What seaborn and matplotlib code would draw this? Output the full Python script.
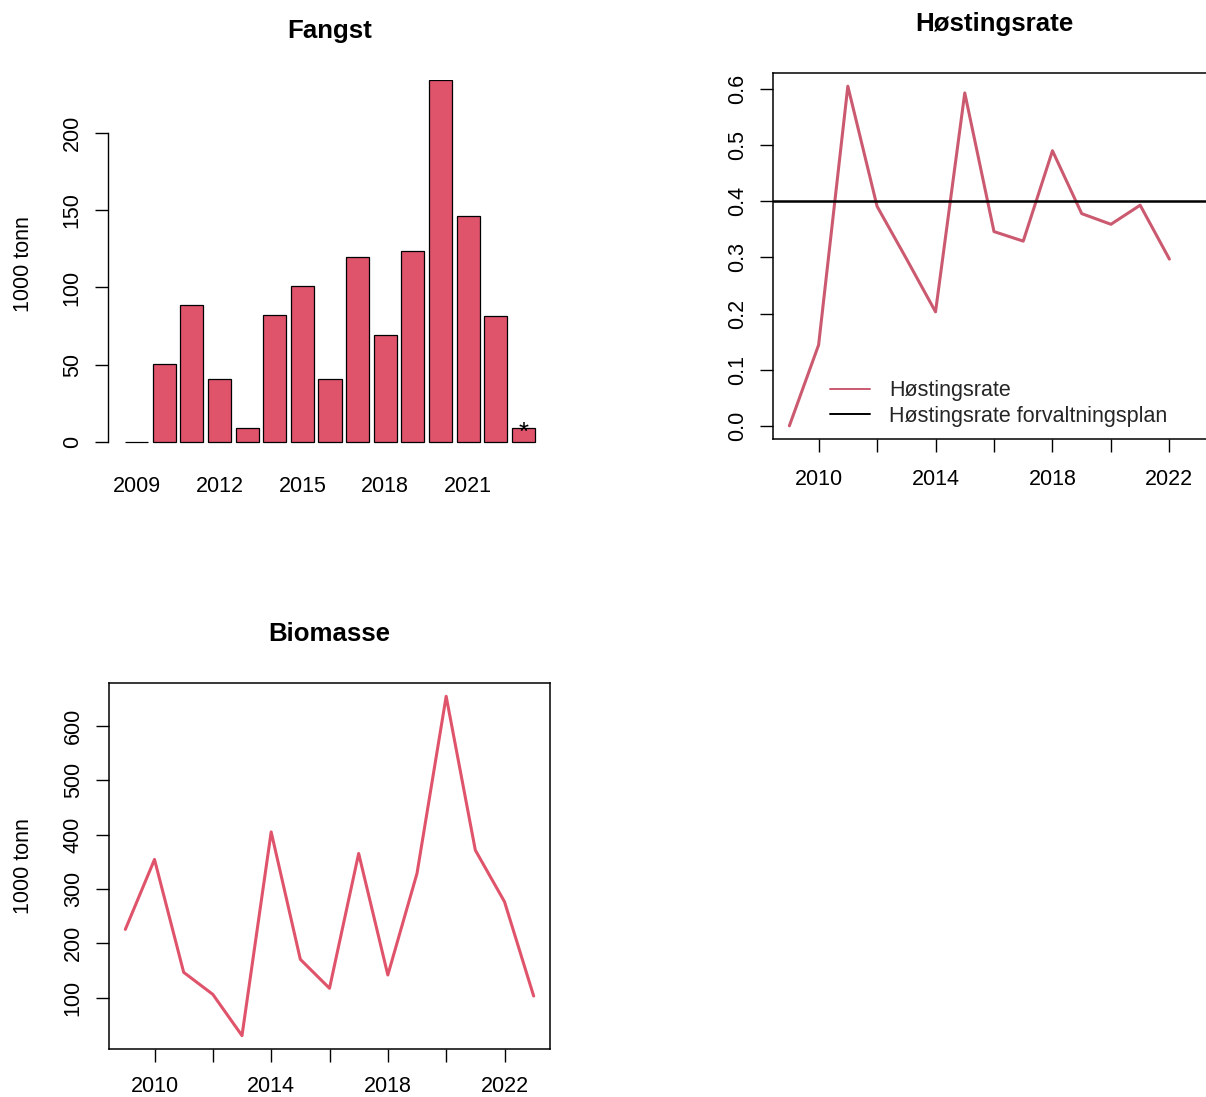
import numpy as np
import pandas as pd
import matplotlib
matplotlib.use("Agg")
import matplotlib.pyplot as plt
from matplotlib.lines import Line2D
import seaborn as sns

# ---------------- data ----------------
years = list(range(2009, 2024))
fangst = [0.0, 50.5, 88.5, 40.8, 8.8, 82.4, 100.8, 40.8, 120.0, 69.5, 123.8, 234.3, 146.3, 81.8, 8.8]
fangst_labels = ["2009", "", "", "2012", "", "", "2015", "", "", "2018", "", "", "2021", "", ""]

years_rate = list(range(2009, 2023))
hostingsrate = [0.0, 0.144, 0.605, 0.391, 0.298, 0.203, 0.593, 0.346, 0.329, 0.490, 0.378, 0.359, 0.393, 0.297]
plan_rate = 0.4

biomasse = [225.6, 354.3, 146.6, 106.0, 30.1, 405.0, 170.5, 117.2, 365.3, 141.7, 328.6, 654.5, 371.4, 276.5, 103.0]

year_ticks = [2010, 2012, 2014, 2016, 2018, 2020, 2022]
year_tick_labels = ["2010", "", "2014", "", "2018", "", "2022"]
rate_ticks = [0.0, 0.1, 0.2, 0.3, 0.4, 0.5, 0.6]
bio_ticks = [100, 200, 300, 400, 500, 600]
fangst_ticks = [0, 50, 100, 150, 200]

# ---------------- style ----------------
sns.set_theme(style="white")
plt.rcParams["font.family"] = ["Liberation Sans", "DejaVu Sans"]
FS = 15.5
TFS = 18.6
BAR_COL = "#DF536B"
RATE_COL = "#CB5A70"

W, H = 1206, 1097
fig = plt.figure(figsize=(W / 100, H / 100), dpi=100)
fig.patch.set_facecolor("white")


def add_ax(left, right, top, bottom):
    return fig.add_axes([left / W, 1 - bottom / H, (right - left) / W, (bottom - top) / H])


def style_ticks(ax, xlen=13, xpad=12.3):
    ax.tick_params(axis="both", which="both", direction="out", color="black",
                   width=1.0, labelsize=FS, labelcolor="black")
    ax.tick_params(axis="y", length=13 / 100 * 72, pad=8.8)
    ax.tick_params(axis="x", length=xlen / 100 * 72, pad=xpad)
    ax.tick_params(left=True, bottom=True)
    for t in ax.get_yticklabels():
        t.set_rotation(90)
        t.set_va("center")


# ---------------- Fangst ----------------
ax1 = add_ax(108, 551, 80, 445)
df_f = pd.DataFrame({"year": [str(y) for y in years], "value": fangst})
sns.barplot(data=df_f, x="year", y="value", color=BAR_COL, saturation=1,
            edgecolor="black", linewidth=0.9, width=1 / 1.2, ax=ax1)
ax1.set_xlim(-1.032, 14.995)
ax1.set_ylim(-1.94, 234.3)
ax1.set_xticks(range(len(years)))
ax1.set_xticklabels(fangst_labels)
ax1.set_yticks(fangst_ticks)
ax1.set_yticklabels([str(v) for v in fangst_ticks])
ax1.set_xlabel("")
ax1.set_ylabel("")
for s in ["top", "right", "bottom"]:
    ax1.spines[s].set_visible(False)
ax1.spines["left"].set_bounds(0, 200)
ax1.spines["left"].set_color("black")
ax1.spines["left"].set_linewidth(1.0)
ax1.patch.set_alpha(0)
style_ticks(ax1, xlen=0, xpad=22.4)
ax1.tick_params(axis="x", length=0)
ax1.annotate("*", xy=(len(years) - 1, fangst[-1]), xytext=(0, -3),
             textcoords="offset points", ha="center", va="center",
             fontsize=18.5, color="black")

# ---------------- Høstingsrate ----------------
ax2 = add_ax(773, 1215, 73, 439)
df_r = pd.DataFrame({"year": years_rate, "rate": hostingsrate})
sns.lineplot(data=df_r, x="year", y="rate", color=RATE_COL, linewidth=2.2, ax=ax2)
ax2.axhline(plan_rate, color="black", linewidth=1.8)
ax2.set_xlim(2008.44, 2023.56)
ax2.set_ylim(-0.0235, 0.6285)
ax2.set_xticks(year_ticks)
ax2.set_xticklabels(year_tick_labels)
ax2.set_yticks(rate_ticks)
ax2.set_yticklabels([f"{v:.1f}" for v in rate_ticks])
ax2.set_xlabel("")
ax2.set_ylabel("")
for s in ax2.spines.values():
    s.set_visible(True)
    s.set_color("black")
    s.set_linewidth(1.1)
style_ticks(ax2)
handles = [Line2D([0], [0], color=RATE_COL, lw=1.4),
           Line2D([0], [0], color="black", lw=1.4)]
ax2.legend(handles, ["Høstingsrate", "Høstingsrate forvaltningsplan"],
           loc="center left", bbox_to_anchor=(830 / W, 1 - 403.5 / H),
           bbox_transform=fig.transFigure, frameon=False, fontsize=FS,
           handlelength=1.86, handletextpad=0.88, labelspacing=0.2,
           borderpad=0, borderaxespad=0)

# ---------------- Biomasse ----------------
ax3 = add_ax(109, 550, 683, 1049)
df_b = pd.DataFrame({"year": years, "biomasse": biomasse})
sns.lineplot(data=df_b, x="year", y="biomasse", color=BAR_COL, linewidth=2.2, ax=ax3)
ax3.set_xlim(2008.44, 2023.56)
ax3.set_ylim(5.5, 679)
ax3.set_xticks(year_ticks)
ax3.set_xticklabels(year_tick_labels)
ax3.set_yticks(bio_ticks)
ax3.set_yticklabels([str(v) for v in bio_ticks])
ax3.set_xlabel("")
ax3.set_ylabel("")
for s in ax3.spines.values():
    s.set_visible(True)
    s.set_color("black")
    s.set_linewidth(1.1)
style_ticks(ax3, xpad=10.0)

# ---------------- titles & labels ----------------
fig.text(329.5 / W, 1 - 38 / H, "Fangst", ha="center", va="baseline",
         fontsize=TFS, fontweight="bold", color="black")
fig.text(994 / W, 1 - 31 / H, "Høstingsrate", ha="center", va="baseline",
         fontsize=TFS, fontweight="bold", color="black")
fig.text(329.5 / W, 1 - 641 / H, "Biomasse", ha="center", va="baseline",
         fontsize=TFS, fontweight="bold", color="black")
fig.text(29 / W, 1 - 264 / H, "1000 tonn", rotation=90, rotation_mode="anchor",
         ha="center", va="baseline", fontsize=FS, color="black")
fig.text(29 / W, 1 - 866 / H, "1000 tonn", rotation=90, rotation_mode="anchor",
         ha="center", va="baseline", fontsize=FS, color="black")

fig.savefig("out.png", dpi=100, facecolor="white")
